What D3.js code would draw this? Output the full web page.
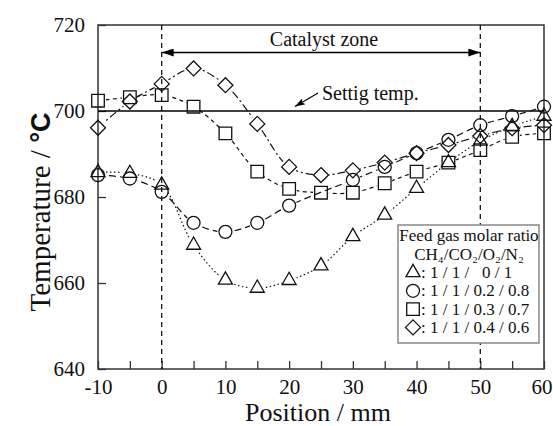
<!DOCTYPE html>
<html><head><meta charset="utf-8">
<script src="https://cdn.jsdelivr.net/npm/d3@7"></script>
<style>
html,body{margin:0;padding:0;background:#fff;}
</style></head>
<body>
<svg id="chart" width="553" height="426"></svg>
<script>
// ---- data ----
const positions = [-10,-5,0,5,10,15,20,25,30,35,40,45,50,55,60];
const ratio0   = [685.7,685.5,682.8,668.8,660.7,658.8,660.6,664.0,670.8,675.8,682.0,688.0,693.0,696.4,698.8]; // 1/1/0/1
const ratio02  = [685.1,684.3,681.2,674.0,671.9,674.0,678.0,null,684.0,687.0,690.2,693.3,696.7,698.8,701.0]; // 1/1/0.2/0.8
const ratio03  = [702.4,703.2,703.7,701.0,694.8,685.9,681.9,681.0,681.0,683.2,685.9,688.0,690.9,694.0,694.8]; // 1/1/0.3/0.7
const ratio04  = [696.1,702.2,706.3,709.9,706.0,697.0,687.0,685.1,686.2,688.0,690.2,692.1,694.2,696.0,696.7]; // 1/1/0.4/0.6
const seriesLabels = [": 1 / 1 /\u00a0\u00a0\u00a00 / 1", ": 1 / 1 / 0.2 / 0.8", ": 1 / 1 / 0.3 / 0.7", ": 1 / 1 / 0.4 / 0.6"];
const legendTitle = "Feed gas molar ratio";
const legendSubtitle = "CH\u2084/CO\u2082/O\u2082/N\u2082";
const xTicks = [-10,-5,0,5,10,15,20,25,30,35,40,45,50,55,60];
const yTicks = [640,660,680,700,720];
const settingTemp = 700;
const catalystZone = [0,50];

const SERIF = "'Liberation Serif','Times New Roman',Times,serif";
const series = [
  {vals: ratio0,  shape:"tri",  dash:"1.5,2.5"},
  {vals: ratio02, shape:"circ", dash:"7,4"},
  {vals: ratio03, shape:"sq",   dash:"4,3.5"},
  {vals: ratio04, shape:"diam", dash:"8,3,2,3"}
];

const svg = d3.select("#chart");
const L=98, R=544, T=25, B=369;
const x = d3.scaleLinear().domain([-10,60]).range([L,R]);
const y = d3.scaleLinear().domain([640,720]).range([B,T]);

function txt(sel, size){ return sel.style("font-family",SERIF).style("font-size",size+"px").attr("fill","#111"); }

function shapePath(s){
  if(s==="tri"){ const a=7, h=12.2; return `M0,${-h*2/3}L${a},${h/3}L${-a},${h/3}Z`; }
  if(s==="circ"){ const r=6.5; return `M${r},0A${r},${r} 0 1,1 ${-r},0A${r},${r} 0 1,1 ${r},0Z`; }
  if(s==="sq"){ const a=6.3; return `M${-a},${-a}H${a}V${a}H${-a}Z`; }
  if(s==="diam"){ const a=7.5; return `M0,${-a}L${a},0L0,${a}L${-a},0Z`; }
}

const defs = svg.append("defs");
defs.append("marker").attr("id","ah").attr("viewBox","0 0 12 8").attr("refX",12).attr("refY",4)
  .attr("markerWidth",12).attr("markerHeight",8).attr("markerUnits","userSpaceOnUse").attr("orient","auto-start-reverse")
  .append("path").attr("d","M0,0L12,4L0,8Z").attr("fill","#000");
defs.append("marker").attr("id","ah2").attr("viewBox","0 0 12 8").attr("refX",12).attr("refY",4)
  .attr("markerWidth",11).attr("markerHeight",7).attr("markerUnits","userSpaceOnUse").attr("orient","auto")
  .append("path").attr("d","M0,0L12,4L0,8L3,4Z").attr("fill","#000");

series.forEach((s,i)=>{
  const m = defs.append("mask").attr("id","m"+i).attr("maskUnits","userSpaceOnUse")
    .attr("x",0).attr("y",0).attr("width",553).attr("height",426);
  m.append("rect").attr("width",553).attr("height",426).attr("fill","#fff");
  positions.forEach((p,j)=>{ if(s.vals[j]!=null) m.append("circle").attr("cx",x(p)).attr("cy",y(s.vals[j])).attr("r",8).attr("fill","#000"); });
});

// frame
svg.append("rect").attr("x",L).attr("y",T).attr("width",R-L).attr("height",B-T)
  .attr("fill","none").attr("stroke","#333").attr("stroke-width",1.5);

// axes
const xAxis = d3.axisBottom(x).tickValues(xTicks).tickSizeInner(-8).tickSizeOuter(0).tickPadding(10)
  .tickFormat(d => d%10===0 ? d : "");
const gx = svg.append("g").attr("transform",`translate(0,${B})`).call(xAxis);
const yAxis = d3.axisLeft(y).tickValues(yTicks).tickSizeInner(-8).tickSizeOuter(0).tickPadding(13);
const gy = svg.append("g").attr("transform",`translate(${L},0)`).call(yAxis);
[gx,gy].forEach(g=>{
  g.attr("font-family",null).attr("font-size",null);
  g.select(".domain").remove();
  g.selectAll(".tick line").attr("stroke","#333").attr("stroke-width",1.3);
  txt(g.selectAll(".tick text"),21);
});
// keep the last x label inside the picture
gx.selectAll(".tick text").filter(d=>d===60).attr("text-anchor","end").attr("dx","0.38em");

// catalyst zone dashed lines
catalystZone.forEach(v=>{
  svg.append("line").attr("x1",x(v)).attr("x2",x(v)).attr("y1",T).attr("y2",B)
    .attr("stroke","#000").attr("stroke-width",1.2).attr("stroke-dasharray","5,4");
});
// setting temp line
svg.append("line").attr("x1",L).attr("x2",R).attr("y1",y(settingTemp)).attr("y2",y(settingTemp))
  .attr("stroke","#000").attr("stroke-width",1.4);

// catalyst arrow
svg.append("line").attr("x1",x(catalystZone[0])).attr("x2",x(catalystZone[1])).attr("y1",52.5).attr("y2",52.5)
  .attr("stroke","#000").attr("stroke-width",1.3).attr("marker-start","url(#ah)").attr("marker-end","url(#ah)");
txt(svg.append("text").attr("x",(x(0)+x(50))/2+3).attr("y",46).attr("text-anchor","middle"),20).text("Catalyst zone");

// setting temp annotation
svg.append("line").attr("x1",318).attr("y1",93).attr("x2",295).attr("y2",106.5)
  .attr("stroke","#000").attr("stroke-width",1.2).attr("marker-end","url(#ah2)");
txt(svg.append("text").attr("x",322).attr("y",100),20).text("Settig temp.");

// series lines and markers
const line = d3.line().x(d=>x(d[0])).y(d=>y(d[1])).curve(d3.curveCatmullRom.alpha(0.5));
series.forEach((s,i)=>{
  const pts = positions.map((p,j)=>[p,s.vals[j]]).filter(d=>d[1]!=null);
  svg.append("path").datum(pts).attr("d",line).attr("fill","none").attr("stroke","#111")
    .attr("stroke-width",1.2).attr("stroke-dasharray",s.dash).attr("mask",`url(#m${i})`);
});
series.forEach((s,i)=>{
  svg.append("g").selectAll("path").data(positions.map((p,j)=>[p,s.vals[j]]).filter(d=>d[1]!=null))
    .join("path").attr("d",shapePath(s.shape))
    .attr("transform",d=>`translate(${x(d[0])},${y(d[1])})`)
    .attr("fill","none").attr("stroke","#111").attr("stroke-width",1.3);
});

// legend
const lg = svg.append("g");
lg.append("rect").attr("x",398).attr("y",225).attr("width",141).attr("height",118)
  .attr("fill","#fff").attr("stroke","#888").attr("stroke-width",1.5);
txt(lg.append("text").attr("x",469).attr("y",241).attr("text-anchor","middle"),17).text(legendTitle);
txt(lg.append("text").attr("x",469).attr("y",260).attr("text-anchor","middle"),17).text(legendSubtitle);
series.forEach((s,i)=>{
  const yy = 278 + i*18.3;
  lg.append("path").attr("d",shapePath(s.shape)).attr("transform",`translate(413,${yy-5.5})`)
    .attr("fill","none").attr("stroke","#111").attr("stroke-width",1.3);
  txt(lg.append("text").attr("x",421).attr("y",yy),17).style("white-space","pre").text(seriesLabels[i]);
});

// axis titles
txt(svg.append("text").attr("x",318).attr("y",421).attr("text-anchor","middle"),26).text("Position / mm");
const yt = txt(svg.append("text").attr("transform","translate(50,212) rotate(-90)").attr("text-anchor","middle"),29);
yt.append("tspan").text("Temperature / ");
yt.append("tspan").style("font-family","'Liberation Sans',Arial,sans-serif").style("font-weight","bold").style("font-size","27px").text("°C");
</script>
</body></html>
